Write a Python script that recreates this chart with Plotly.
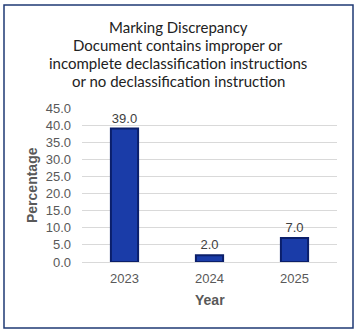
import plotly.graph_objects as go

years = ["2023", "2024", "2025"]
values = [39.0, 2.0, 7.0]
title_lines = ["Marking Discrepancy", "Document contains improper or",
               "incomplete declassification instructions", "or no declassification instruction"]

fig = go.Figure()
fig.add_trace(go.Bar(
    x=years, y=values, width=0.32,
    marker=dict(color="#1a3ca8", line=dict(color="#0b1f6a", width=2)),
    text=[f"{v:.1f}" for v in values], textposition="outside",
    textfont=dict(family="Liberation Sans, Arial", size=13, color="#404040"),
    cliponaxis=False,
))

fig.update_layout(
    width=356, height=334,
    margin=dict(l=82, r=19, t=108, b=72),
    paper_bgcolor="white", plot_bgcolor="white",
    showlegend=False,
    font=dict(family="Liberation Sans, Arial", size=13, color="#595959"),
)
fig.update_yaxes(range=[0, 45], dtick=5, tickformat=".1f", showgrid=True,
                 gridcolor="#d9d9d9", gridwidth=1, zeroline=False, showline=False,
                 ticks="", tickfont=dict(size=13, color="#595959"), ticklabelstandoff=10,
                 automargin=False)
fig.update_xaxes(showgrid=False, showline=True, linecolor="#d9d9d9", linewidth=1,
                 ticks="", tickfont=dict(size=13, color="#595959"), ticklabelstandoff=4,
                 automargin=False)

for i, line in enumerate(title_lines):
    cy = 27 + 18 * i
    fig.add_annotation(text=line, x=(178 - 82) / 255, y=(262 - cy) / 154,
                       xref="paper", yref="paper",
                       xanchor="center", yanchor="middle", showarrow=False,
                       font=dict(family="Lato, Noto Sans", size=15, color="#222222"))

fig.add_annotation(text="<b>Percentage</b>", xref="paper", yref="paper",
                   x=(32 - 82) / 255, y=0.5, textangle=-90, showarrow=False,
                   xanchor="center", yanchor="middle",
                   font=dict(size=14, color="#595959"))
fig.add_annotation(text="<b>Year</b>", xref="paper", yref="paper",
                   x=0.5, y=(262 - 300) / 154, showarrow=False,
                   xanchor="center", yanchor="middle",
                   font=dict(size=14, color="#595959"))

fig.add_shape(type="rect", xref="paper", yref="paper",
              x0=(4 - 82) / 255, x1=(353 - 82) / 255,
              y0=(262 - 328) / 154, y1=(262 - 5) / 154,
              line=dict(color="#1f3a74", width=1.5), fillcolor="rgba(0,0,0,0)")

fig.write_html("out.html")
